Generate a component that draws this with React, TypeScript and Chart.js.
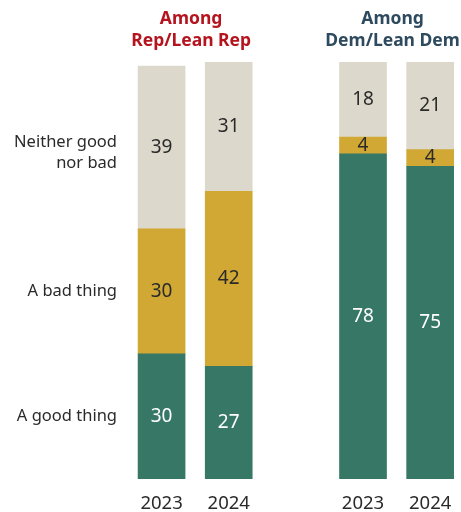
import React, { useEffect, useRef } from "react";
import { Chart, registerables } from "chart.js";

Chart.register(...registerables);

const years = ["2023", "2024", "2023", "2024"];
const barPositions = [0, 1, 3, 4];
const goodThing = [30, 27, 78, 75];
const badThing = [30, 42, 4, 4];
const neither = [39, 31, 18, 21];
const seriesNames = ["A good thing", "A bad thing", "Neither good nor bad"];
const groupTitles = [["Among", "Rep/Lean Rep"], ["Among", "Dem/Lean Dem"]];
const groupTitleColors = ["#b5141e", "#2e4a5e"];

const GREEN = "#367766";
const GOLD = "#d1a833";
const BEIGE = "#dcd9cc";
const FONT = "'Noto Sans', sans-serif";

const overlayPlugin = {
  id: "overlay",
  afterDatasetsDraw(chart: any) {
    const ctx = chart.ctx;
    ctx.save();
    // value labels
    chart.data.datasets.forEach((ds: any, di: number) => {
      const meta = chart.getDatasetMeta(di);
      meta.data.forEach((el: any, i: number) => {
        const v = ds.data[i].y;
        const yMid = (el.y + el.base) / 2;
        ctx.font = `19px ${FONT}`;
        ctx.fillStyle = di === 0 ? "#ffffff" : "#2a2a2a";
        ctx.textAlign = "center";
        ctx.textBaseline = "middle";
        ctx.fillText(String(v), el.x, yMid);
      });
    });
    // series labels on left, aligned with first bar segments
    ctx.font = `16.5px ${FONT}`;
    ctx.fillStyle = "#2a2a2a";
    ctx.textAlign = "right";
    ctx.textBaseline = "middle";
    const labelX = 117;
    chart.data.datasets.forEach((ds: any, di: number) => {
      const el = chart.getDatasetMeta(di).data[0];
      const yMid = (el.y + el.base) / 2;
      const name = seriesNames[di];
      if (name === "Neither good nor bad") {
        ctx.fillText("Neither good", labelX, yMid - 5);
        ctx.fillText("nor bad", labelX, yMid + 16);
      } else {
        ctx.fillText(name, labelX, yMid);
      }
    });
    // group titles
    const xs = chart.scales.x;
    ctx.font = `bold 17.5px ${FONT}`;
    ctx.textAlign = "center";
    groupTitles.forEach((lines, g) => {
      const cx = (xs.getPixelForValue(barPositions[g * 2]) + xs.getPixelForValue(barPositions[g * 2 + 1])) / 2 - 4;
      ctx.fillStyle = groupTitleColors[g];
      ctx.fillText(lines[0], cx, 19);
      ctx.fillText(lines[1], cx, 41);
    });
    ctx.restore();
  },
};

export default function App() {
  const ref = useRef<HTMLCanvasElement>(null);
  useEffect(() => {
    if (!ref.current) return;
    const mk = (arr: number[]) => arr.map((y, i) => ({ x: barPositions[i], y }));
    const chart = new Chart(ref.current, {
      type: "bar",
      data: {
        datasets: [
          { label: seriesNames[0], data: mk(goodThing), backgroundColor: GREEN, barThickness: 47 },
          { label: seriesNames[1], data: mk(badThing), backgroundColor: GOLD, barThickness: 47 },
          { label: seriesNames[2], data: mk(neither), backgroundColor: BEIGE, barThickness: 47 },
        ],
      },
      options: {
        animation: false,
        responsive: false,
        maintainAspectRatio: false,
        layout: { padding: { left: 128, right: 6, top: 62, bottom: 0 } },
        plugins: { legend: { display: false }, tooltip: { enabled: false } },
        scales: {
          x: {
            type: "linear",
            stacked: true,
            offset: false,
            min: -0.5,
            max: 4.37,
            grid: { display: false, drawTicks: false, offset: false },
            border: { display: false },
            afterBuildTicks: (scale: any) => {
              scale.ticks = barPositions.map((v) => ({ value: v }));
            },
            afterFit: (scale: any) => {
              scale.height = 33;
              scale.paddingLeft = 0;
              scale.paddingRight = 0;
            },
            ticks: {
              padding: 14,
              autoSkip: false,
              maxRotation: 0,
              color: "#2a2a2a",
              font: { family: FONT, size: 18.5 },
              callback: (value: any) => years[barPositions.indexOf(Number(value))] ?? "",
            },
          },
          y: {
            stacked: true,
            display: false,
            min: 0,
            max: 100,
          },
        },
      },
      plugins: [overlayPlugin],
    } as any);
    return () => chart.destroy();
  }, []);
  return (
    <div style={{ position: "absolute", left: 0, top: 0, width: 461, height: 512, background: "#fff" }}>
      <canvas ref={ref} width={461} height={512} style={{ width: 461, height: 512, display: "block" }} />
    </div>
  );
}
